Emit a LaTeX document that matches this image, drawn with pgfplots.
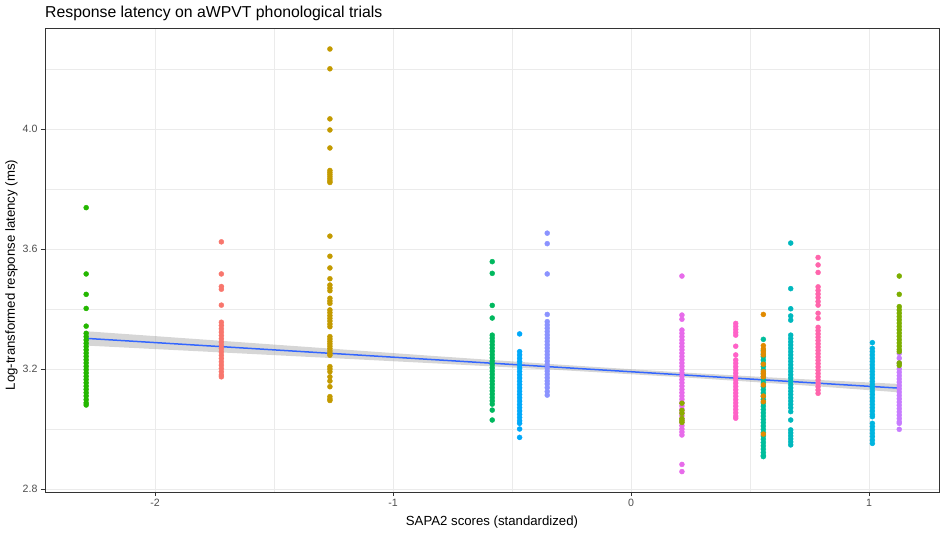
\documentclass[border=0pt]{standalone}
\usepackage{pgfplots}
\pgfplotsset{compat=1.18}
\usepackage{fontspec}
\setmainfont{Liberation Sans}
\definecolor{gridc}{HTML}{EBEBEB}
\definecolor{framec}{HTML}{333333}
\definecolor{tickc}{HTML}{4D4D4D}
\definecolor{cgreen}{HTML}{24B700}
\definecolor{cred}{HTML}{F8766D}
\definecolor{cgold}{HTML}{C39A00}
\definecolor{cgteal}{HTML}{00B85E}
\definecolor{cblue}{HTML}{00A9FA}
\definecolor{cperi}{HTML}{8B93FF}
\definecolor{cmag}{HTML}{E76BEA}
\definecolor{colive}{HTML}{8CAB00}
\definecolor{cpink}{HTML}{FF62C8}
\definecolor{cteal}{HTML}{00BE9C}
\definecolor{corange}{HTML}{E18A00}
\definecolor{cteal2}{HTML}{00B8BE}
\definecolor{cpink2}{HTML}{FF65AC}
\definecolor{ccyan}{HTML}{00B5E0}
\definecolor{cpurple}{HTML}{C77CFF}
\definecolor{colive2}{HTML}{7CAE00}
\definecolor{smooth}{HTML}{3366FF}
\begin{document}
\begin{tikzpicture}[x=1pt,y=1pt]
\useasboundingbox (0,0) rectangle (945,535);
\begin{axis}[
  at={(45pt,43pt)}, anchor=south west,
  scale only axis, width=894pt, height=464pt,
  xmin=-2.462, xmax=1.294, ymin=2.79, ymax=4.337,
  xtick={-2,-1,0,1}, xticklabels={-2,-1,0,1},
  ytick={2.8,3.2,3.6,4.0}, yticklabels={2.8,3.2,3.6,4.0},
  minor xtick={-1.5,-0.5,0.5}, minor ytick={3.0,3.4,3.8,4.2},
  xtick pos=bottom, ytick pos=left,
  grid=both,
  major grid style={color=gridc, line width=0.9pt},
  minor grid style={color=gridc, line width=0.5pt},
  axis line style={color=framec, line width=0.9pt},
  tick align=outside, major tick length=4pt, minor tick length=0pt,
  tick style={color=framec, line width=0.9pt},
  ticklabel style={font=\fontsize{10.6}{12}\selectfont, color=tickc},
  /pgf/number format/assume math mode=true,
  only marks,
  every axis plot/.append style={mark=*, mark size=2.5pt},
]
% green
\addplot[color=cgreen, mark options={draw=none, fill=cgreen}] coordinates {
(-2.289,3.738) (-2.289,3.517) (-2.289,3.449) (-2.289,3.402) (-2.289,3.343) (-2.289,3.319) (-2.289,3.308) (-2.289,3.297) (-2.289,3.286) (-2.289,3.275) (-2.289,3.264) (-2.289,3.253) (-2.289,3.242) (-2.289,3.231) (-2.289,3.220) (-2.289,3.209) (-2.289,3.198) (-2.289,3.187) (-2.289,3.176) (-2.289,3.165) (-2.289,3.154) (-2.289,3.143) (-2.289,3.132) (-2.289,3.121) (-2.289,3.110) (-2.289,3.098) (-2.289,3.087) (-2.289,3.080)};
% red
\addplot[color=cred, mark options={draw=none, fill=cred}] coordinates {
(-1.721,3.624) (-1.721,3.517) (-1.721,3.475) (-1.721,3.466) (-1.721,3.413) (-1.721,3.356) (-1.721,3.345) (-1.721,3.334) (-1.721,3.323) (-1.721,3.312) (-1.721,3.301) (-1.721,3.290) (-1.721,3.279) (-1.721,3.268) (-1.721,3.257) (-1.721,3.246) (-1.721,3.235) (-1.721,3.224) (-1.721,3.213) (-1.721,3.202) (-1.721,3.191) (-1.721,3.180) (-1.721,3.174)};
% gold
\addplot[color=cgold, mark options={draw=none, fill=cgold}] coordinates {
(-1.265,4.267) (-1.265,4.201) (-1.265,4.034) (-1.265,3.997) (-1.265,3.937) (-1.265,3.862) (-1.265,3.855) (-1.265,3.848) (-1.265,3.841) (-1.265,3.834) (-1.265,3.827) (-1.265,3.822) (-1.265,3.643) (-1.265,3.576) (-1.265,3.537) (-1.265,3.501) (-1.265,3.480) (-1.265,3.470) (-1.265,3.461) (-1.265,3.436) (-1.265,3.427) (-1.265,3.419) (-1.265,3.397) (-1.265,3.388) (-1.265,3.378) (-1.265,3.369) (-1.265,3.360) (-1.265,3.350) (-1.265,3.341) (-1.265,3.308) (-1.265,3.300) (-1.265,3.292) (-1.265,3.284) (-1.265,3.276) (-1.265,3.268) (-1.265,3.260) (-1.265,3.252) (-1.265,3.246) (-1.265,3.208) (-1.265,3.200) (-1.265,3.191) (-1.265,3.174) (-1.265,3.160) (-1.265,3.141) (-1.265,3.108) (-1.265,3.100) (-1.265,3.095)};
% green-teal
\addplot[color=cgteal, mark options={draw=none, fill=cgteal}] coordinates {
(-0.583,3.558) (-0.583,3.519) (-0.583,3.412) (-0.583,3.370) (-0.583,3.313) (-0.583,3.303) (-0.583,3.292) (-0.583,3.281) (-0.583,3.270) (-0.583,3.259) (-0.583,3.248) (-0.583,3.237) (-0.583,3.226) (-0.583,3.215) (-0.583,3.204) (-0.583,3.193) (-0.583,3.182) (-0.583,3.171) (-0.583,3.160) (-0.583,3.149) (-0.583,3.138) (-0.583,3.127) (-0.583,3.116) (-0.583,3.105) (-0.583,3.094) (-0.583,3.083) (-0.583,3.063) (-0.583,3.030)};
% blue
\addplot[color=cblue, mark options={draw=none, fill=cblue}] coordinates {
(-0.468,3.317) (-0.468,3.258) (-0.468,3.247) (-0.468,3.236) (-0.468,3.225) (-0.468,3.214) (-0.468,3.203) (-0.468,3.192) (-0.468,3.181) (-0.468,3.170) (-0.468,3.159) (-0.468,3.148) (-0.468,3.137) (-0.468,3.126) (-0.468,3.115) (-0.468,3.104) (-0.468,3.093) (-0.468,3.082) (-0.468,3.071) (-0.468,3.060) (-0.468,3.049) (-0.468,3.038) (-0.468,3.027) (-0.468,3.019) (-0.468,3.000) (-0.468,2.972)};
% periwinkle
\addplot[color=cperi, mark options={draw=none, fill=cperi}] coordinates {
(-0.352,3.653) (-0.352,3.618) (-0.352,3.517) (-0.352,3.382) (-0.352,3.358) (-0.352,3.347) (-0.352,3.336) (-0.352,3.325) (-0.352,3.314) (-0.352,3.303) (-0.352,3.292) (-0.352,3.281) (-0.352,3.270) (-0.352,3.259) (-0.352,3.248) (-0.352,3.237) (-0.352,3.226) (-0.352,3.215) (-0.352,3.204) (-0.352,3.193) (-0.352,3.182) (-0.352,3.171) (-0.352,3.160) (-0.352,3.150) (-0.352,3.138) (-0.352,3.125) (-0.352,3.113)};
% magenta
\addplot[color=cmag, mark options={draw=none, fill=cmag}] coordinates {
(0.214,3.510) (0.214,3.380) (0.214,3.366) (0.214,3.330) (0.214,3.319) (0.214,3.308) (0.214,3.297) (0.214,3.286) (0.214,3.275) (0.214,3.264) (0.214,3.253) (0.214,3.242) (0.214,3.231) (0.214,3.220) (0.214,3.209) (0.214,3.198) (0.214,3.187) (0.214,3.176) (0.214,3.165) (0.214,3.154) (0.214,3.143) (0.214,3.132) (0.214,3.121) (0.214,3.110) (0.214,3.099) (0.214,3.088) (0.214,3.077) (0.214,3.066) (0.214,3.055) (0.214,3.044) (0.214,3.033) (0.214,3.022) (0.214,3.011) (0.214,3.000) (0.214,2.990) (0.214,2.980) (0.214,2.882) (0.214,2.858)};
% olive at 0.214
\addplot[color=colive, mark options={draw=none, fill=colive}] coordinates {
(0.214,3.086) (0.214,3.062) (0.214,3.052) (0.214,3.035) (0.214,3.028) (0.214,3.022)};
% pink
\addplot[color=cpink, mark options={draw=none, fill=cpink}] coordinates {
(0.440,3.352) (0.440,3.342) (0.440,3.332) (0.440,3.322) (0.440,3.313) (0.440,3.276) (0.440,3.247) (0.440,3.230) (0.440,3.219) (0.440,3.208) (0.440,3.197) (0.440,3.186) (0.440,3.175) (0.440,3.164) (0.440,3.153) (0.440,3.142) (0.440,3.131) (0.440,3.120) (0.440,3.109) (0.440,3.098) (0.440,3.087) (0.440,3.076) (0.440,3.065) (0.440,3.054) (0.440,3.043) (0.440,3.036)};
% teal-green at 0.556
\addplot[color=cteal, mark options={draw=none, fill=cteal}] coordinates {
(0.556,3.299) (0.556,3.262) (0.556,3.250) (0.556,3.241) (0.556,3.230) (0.556,3.219) (0.556,3.208) (0.556,3.197) (0.556,3.186) (0.556,3.175) (0.556,3.164) (0.556,3.153) (0.556,3.142) (0.556,3.131) (0.556,3.120) (0.556,3.109) (0.556,3.098) (0.556,3.087) (0.556,3.076) (0.556,3.065) (0.556,3.054) (0.556,3.043) (0.556,3.032) (0.556,3.021) (0.556,3.010) (0.556,2.999) (0.556,2.988) (0.556,2.977) (0.556,2.966) (0.556,2.955) (0.556,2.944) (0.556,2.933) (0.556,2.922) (0.556,2.912) (0.556,2.908)};
% orange at 0.556
\addplot[color=corange, mark options={draw=none, fill=corange}] coordinates {
(0.556,3.382) (0.556,3.278) (0.556,3.267) (0.556,3.257) (0.556,3.247) (0.556,3.216) (0.556,3.191) (0.556,3.183) (0.556,3.174) (0.556,3.147) (0.556,3.110) (0.556,3.091) (0.556,2.983)};
% teal at 0.671
\addplot[color=cteal2, mark options={draw=none, fill=cteal2}] coordinates {
(0.671,3.620) (0.671,3.468) (0.671,3.401) (0.671,3.377) (0.671,3.363) (0.671,3.313) (0.671,3.302) (0.671,3.291) (0.671,3.280) (0.671,3.269) (0.671,3.258) (0.671,3.247) (0.671,3.236) (0.671,3.225) (0.671,3.214) (0.671,3.203) (0.671,3.192) (0.671,3.181) (0.671,3.170) (0.671,3.159) (0.671,3.148) (0.671,3.137) (0.671,3.126) (0.671,3.115) (0.671,3.104) (0.671,3.093) (0.671,3.082) (0.671,3.071) (0.671,3.058) (0.671,3.030) (0.671,2.997) (0.671,2.987) (0.671,2.977) (0.671,2.967) (0.671,2.957) (0.671,2.947)};
% pink2 at 0.786
\addplot[color=cpink2, mark options={draw=none, fill=cpink2}] coordinates {
(0.786,3.572) (0.786,3.547) (0.786,3.522) (0.786,3.474) (0.786,3.462) (0.786,3.450) (0.786,3.438) (0.786,3.425) (0.786,3.413) (0.786,3.386) (0.786,3.369) (0.786,3.339) (0.786,3.328) (0.786,3.317) (0.786,3.306) (0.786,3.295) (0.786,3.284) (0.786,3.273) (0.786,3.262) (0.786,3.251) (0.786,3.240) (0.786,3.229) (0.786,3.218) (0.786,3.207) (0.786,3.196) (0.786,3.185) (0.786,3.174) (0.786,3.163) (0.786,3.152) (0.786,3.141) (0.786,3.130) (0.786,3.119)};
% cyan at 1.014
\addplot[color=ccyan, mark options={draw=none, fill=ccyan}] coordinates {
(1.014,3.288) (1.014,3.269) (1.014,3.258) (1.014,3.247) (1.014,3.236) (1.014,3.225) (1.014,3.214) (1.014,3.203) (1.014,3.192) (1.014,3.181) (1.014,3.170) (1.014,3.159) (1.014,3.148) (1.014,3.137) (1.014,3.126) (1.014,3.115) (1.014,3.104) (1.014,3.093) (1.014,3.082) (1.014,3.071) (1.014,3.060) (1.014,3.049) (1.014,3.041) (1.014,3.019) (1.014,3.008) (1.014,2.997) (1.014,2.986) (1.014,2.975) (1.014,2.963) (1.014,2.952)};
% purple at 1.127
\addplot[color=cpurple, mark options={draw=none, fill=cpurple}] coordinates {
(1.127,3.252) (1.127,3.236) (1.127,3.220) (1.127,3.200) (1.127,3.189) (1.127,3.178) (1.127,3.167) (1.127,3.156) (1.127,3.145) (1.127,3.134) (1.127,3.123) (1.127,3.112) (1.127,3.101) (1.127,3.090) (1.127,3.079) (1.127,3.068) (1.127,3.057) (1.127,3.046) (1.127,3.035) (1.127,3.024) (1.127,3.019) (1.127,2.999)};
% olive at 1.127
\addplot[color=colive2, mark options={draw=none, fill=colive2}] coordinates {
(1.127,3.510) (1.127,3.449) (1.127,3.408) (1.127,3.397) (1.127,3.386) (1.127,3.375) (1.127,3.364) (1.127,3.353) (1.127,3.342) (1.127,3.331) (1.127,3.320) (1.127,3.309) (1.127,3.298) (1.127,3.287) (1.127,3.276) (1.127,3.265) (1.127,3.258) (1.127,3.220) (1.127,3.212)};
% confidence band
\addplot[draw=none, no marks, fill=black!40, fill opacity=0.4, sharp plot] coordinates {
(-2.289,3.326) (-1.8,3.2985) (-1.3,3.2702) (-0.8,3.2419) (-0.3,3.2146) (0.2,3.1893) (0.7,3.1670) (1.127,3.1502)
(1.127,3.1222) (0.7,3.1470) (0.2,3.1733) (-0.3,3.1966) (-0.8,3.2179) (-1.3,3.2382) (-1.8,3.2585) (-2.289,3.2782)};
% regression line
\addplot[color=smooth, line width=1.5pt, no marks, sharp plot] coordinates {
(-2.289,3.3022) (1.127,3.1362)};
\end{axis}
\node[anchor=base west, inner sep=0pt, font=\fontsize{15.8}{18}\selectfont] at (45,517.5) {Response latency on aWPVT phonological trials};
\node[anchor=base, inner sep=0pt, font=\fontsize{13.2}{15}\selectfont] at (492,9) {SAPA2 scores (standardized)};
\node[anchor=north, rotate=90, inner sep=0pt, font=\fontsize{13.2}{15}\selectfont] at (5,260) {Log-transformed response latency (ms)};
\end{tikzpicture}
\end{document}
